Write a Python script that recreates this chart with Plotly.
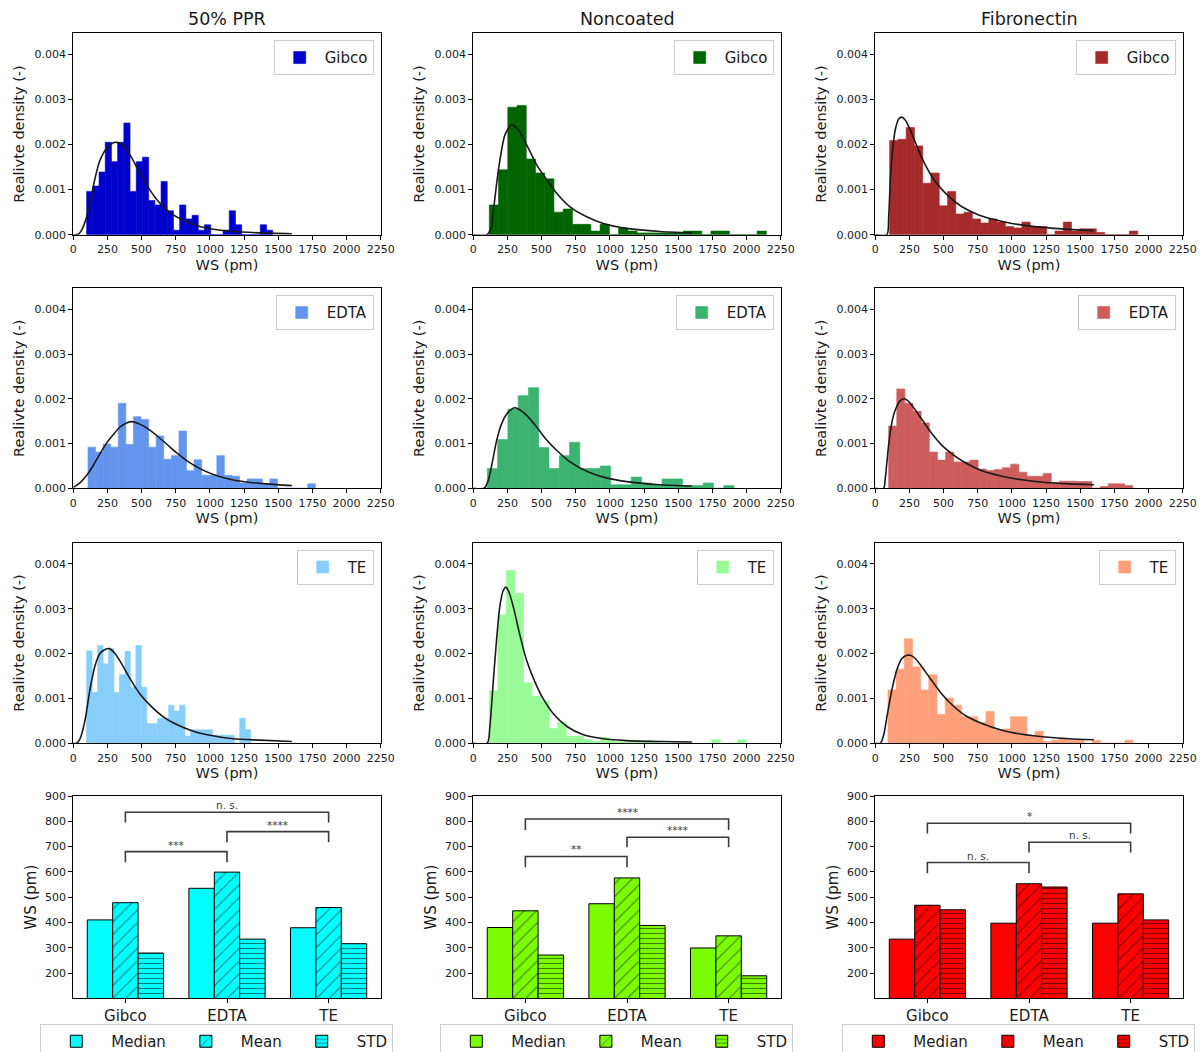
import numpy as np
import plotly.graph_objects as go

W, H = 1203, 1052

conditions = ["50% PPR", "Noncoated", "Fibronectin"]
treatments = ["Gibco", "EDTA", "TE"]
stats = ["Median", "Mean", "STD"]

hist_colors = [["#0000CD", "#006400", "#A52A2A"],
               ["#6495ED", "#3CB371", "#CD5C5C"],
               ["#87CEFA", "#98FB98", "#FFA07A"]]
bar_colors = ["#00FFFF", "#7CFC00", "#FF0000"]

# ---------------- histogram data (density per bin, bin range) ----------------
ppr_gibco_range = (97.6, 1459.3)
ppr_gibco_density = [0.00096, 0.00108, 0.00139, 0.00205, 0.00162, 0.00205, 0.00248, 0.00096, 0.00162, 0.00172,
                     0.00076, 0.00066, 0.00118, 0.00053, 0.0001, 0.00066, 0.00035, 0.00043, 0.0001, 0.00022,
                     0, 0, 0.0001, 0.00053, 0.00022, 0, 0, 0, 0.00022, 0.0001]
non_gibco_range = (117.1, 2145.0)
non_gibco_density = [0.00066, 0.00144, 0.00283, 0.00287, 0.00168, 0.00137, 0.00124, 0.0005, 0.00057, 0.00023,
                     0.00023, 0.00008, 0.00023, 0, 0.00015, 0.00008, 0.00004, 0.00004, 0.00004, 0.00004,
                     0.00004, 0.00008, 0.00008, 0, 0.00008, 0.00008, 0, 0, 0, 0.00008]
fib_gibco_range = (104.9, 1920.5)
fib_gibco_density = [0.00209, 0.00212, 0.00238, 0.00197, 0.00114, 0.00137, 0.00064, 0.00096, 0.00046, 0.0005,
                     0.00035, 0.00026, 0.00035, 0.00028, 0.00018, 0.00015, 0.00028, 0.00018, 0.00018, 0,
                     0.00008, 0.00028, 0.00008, 0.00013, 0.00013, 0.00005, 0, 0, 0, 0.00008]
ppr_edta_range = (107.4, 1771.7)
ppr_edta_density = [0.00092, 0.00081, 0.00099, 0.00092, 0.0019, 0.00098, 0.0016, 0.00154, 0.00092, 0.00117,
                    0.00065, 0.00073, 0.00128, 0.00039, 0.00064, 0.00029, 0.00029, 0.00073, 0.00029, 0.00027,
                    0.00012, 0.00021, 0.00021, 0.0001, 0.00021, 0, 0, 0, 0, 0.0001]
non_edta_range = (102.5, 1908.3)
non_edta_density = [0.00044, 0.00109, 0.00177, 0.00207, 0.00225, 0.00091, 0.00044, 0.00073, 0.00103, 0.00044,
                    0.00044, 0.0005, 0.00008, 0.00008, 0.00025, 0.00012, 0.00008, 0.00021, 0.00021, 0.00006,
                    0.00006, 0.00012, 0, 0.00006]
fib_edta_range = (97.6, 1883.9)
fib_edta_density = [0.00139, 0.00222, 0.0019, 0.00172, 0.00146, 0.00081, 0.00063, 0.00081, 0.00059, 0.00059,
                    0.00063, 0.00043, 0.0004, 0.00042, 0.00046, 0.00054, 0.00036, 0.00027, 0.00027, 0.00033,
                    0.00013, 0.00016, 0.00016, 0.00015, 0.00015, 0, 0.00004, 0.0001, 0.0001, 0.00006]
ppr_te_range = (97.6, 1298.2)
ppr_te_density = [0.00206, 0.00113, 0.00218, 0.00177, 0.00211, 0.00113, 0.00153, 0.00205, 0.00125, 0.00218,
                  0.00125, 0.00044, 0.00044, 0.00056, 0.00056, 0.00085, 0.00072, 0.00085, 0.00016, 0.0003,
                  0.0003, 0.0003, 0.0003, 0.00018, 0.00018, 0.00018, 0.00018, 0, 0.00056, 0.0003]
non_te_range = (117.1, 1996.2)
non_te_density = [0.00117, 0.00286, 0.00385, 0.00334, 0.00135, 0.00105, 0.00094, 0.00033, 0.00047, 0.00016,
                  0.00016, 0.00008, 0.00004, 0.00013, 0.00004, 0.00004, 0.00004, 0.00004, 0.00004, 0.00004,
                  0, 0, 0, 0, 0, 0, 0.00008, 0, 0, 0.00008]
fib_te_range = (92.7, 1886.4)
fib_te_density = [0.00119, 0.00165, 0.00233, 0.0017, 0.00119, 0.00153, 0.00064, 0.00101, 0.00085, 0.00059,
                  0.00059, 0.00047, 0.00071, 0.0003, 0.00032, 0.00059, 0.00059, 0.00016, 0.00027, 0.00004,
                  0.00007, 0.00012, 0.00007, 0.00007, 0, 0.00007, 0, 0, 0, 0.00007]

# ---------------- fitted curves ----------------
ppr_gibco_fit_x = [0, 37, 61, 98, 122, 146, 171, 195, 244, 293, 317, 366, 415, 488, 561, 634, 732, 830, 927, 1025, 1171, 1367, 1600]
ppr_gibco_fit_y = [0, 0.00001, 0.0001, 0.0004, 0.0007, 0.00107, 0.0014, 0.00165, 0.00192, 0.00204, 0.00205, 0.00199,
                   0.00177, 0.00137, 0.00099, 0.0007, 0.00044, 0.00029, 0.00018, 0.00012, 0.00007, 0.00004, 0.00002]
non_gibco_fit_x = [0, 100, 134, 146, 171, 195, 232, 281, 329, 390, 464, 537, 610, 708, 830, 952, 1122, 1367, 1600]
non_gibco_fit_y = [0, 0, 0.00018, 0.0005, 0.00114, 0.00166, 0.00222, 0.00244, 0.00233, 0.002, 0.00155, 0.00122,
                   0.00092, 0.00062, 0.0004, 0.00025, 0.00014, 0.00007, 0.00004]
fib_gibco_fit_x = [0, 85, 98, 110, 127, 146, 171, 195, 220, 256, 305, 366, 439, 537, 634, 757, 878, 1000, 1171, 1367, 1600]
fib_gibco_fit_y = [0, 0, 0.0004, 0.0012, 0.00188, 0.00233, 0.00257, 0.00261, 0.00254, 0.00233, 0.00196, 0.00155,
                   0.00118, 0.00085, 0.00062, 0.00044, 0.00033, 0.00025, 0.00018, 0.00013, 0.00009]
ppr_edta_fit_x = [0, 49, 98, 146, 195, 244, 293, 342, 390, 427, 476, 537, 610, 683, 757, 830, 927, 1025, 1122, 1269, 1415, 1600]
ppr_edta_fit_y = [0.00002, 0.00012, 0.00029, 0.00051, 0.00077, 0.00101, 0.0012, 0.00137, 0.00146, 0.00149, 0.00145,
                  0.00135, 0.00118, 0.00099, 0.00079, 0.00062, 0.00044, 0.00031, 0.00022, 0.00014, 0.0001, 0.00006]
non_edta_fit_x = [0, 80, 110, 134, 171, 207, 244, 281, 305, 342, 390, 464, 537, 610, 708, 830, 952, 1122, 1367, 1600]
non_edta_fit_y = [0, 0, 0.00018, 0.0005, 0.00107, 0.00144, 0.00166, 0.00177, 0.0018, 0.00175, 0.00163, 0.00137,
                  0.00108, 0.00085, 0.00059, 0.00038, 0.00025, 0.00015, 0.00008, 0.00005]
fib_edta_fit_x = [0, 61, 73, 85, 98, 122, 146, 183, 215, 244, 293, 354, 415, 488, 561, 659, 781, 927, 1074, 1244, 1415, 1600]
fib_edta_fit_y = [0, 0, 0.00022, 0.00058, 0.00098, 0.00148, 0.00175, 0.00196, 0.002, 0.00194, 0.00175, 0.00148,
                  0.00122, 0.00096, 0.00077, 0.00057, 0.00039, 0.00027, 0.00019, 0.00013, 0.0001, 0.00008]
ppr_te_fit_x = [0, 24, 49, 85, 122, 159, 195, 232, 264, 305, 354, 415, 488, 561, 659, 757, 878, 1000, 1171, 1367, 1600]
ppr_te_fit_y = [0, 0, 0.0001, 0.0005, 0.0012, 0.00173, 0.002, 0.00209, 0.00211, 0.002, 0.00177, 0.00144, 0.0011,
                0.00085, 0.00059, 0.00042, 0.00027, 0.00018, 0.0001, 0.00007, 0.00004]
non_te_fit_x = [0, 102, 122, 146, 171, 195, 220, 237, 256, 293, 342, 390, 451, 512, 586, 683, 806, 952, 1122, 1367, 1600]
non_te_fit_y = [0, 0, 0.0004, 0.00137, 0.00233, 0.00307, 0.00341, 0.00348, 0.00341, 0.00304, 0.0024, 0.00185,
                0.00137, 0.00099, 0.00066, 0.00038, 0.00019, 0.0001, 0.00006, 0.00004, 0.00003]
fib_te_fit_x = [0, 37, 61, 85, 122, 159, 195, 232, 256, 293, 342, 403, 476, 561, 659, 781, 927, 1074, 1244, 1415, 1600]
fib_te_fit_y = [0, 0, 0.00018, 0.00059, 0.0012, 0.00165, 0.00189, 0.00196, 0.00196, 0.00189, 0.0017, 0.00144,
                0.00114, 0.00086, 0.00062, 0.00044, 0.00029, 0.0002, 0.00014, 0.0001, 0.00008]

hist_ranges = [[ppr_gibco_range, non_gibco_range, fib_gibco_range],
               [ppr_edta_range, non_edta_range, fib_edta_range],
               [ppr_te_range, non_te_range, fib_te_range]]
hist_density = [[ppr_gibco_density, non_gibco_density, fib_gibco_density],
                [ppr_edta_density, non_edta_density, fib_edta_density],
                [ppr_te_density, non_te_density, fib_te_density]]
fit_x = [[ppr_gibco_fit_x, non_gibco_fit_x, fib_gibco_fit_x],
         [ppr_edta_fit_x, non_edta_fit_x, fib_edta_fit_x],
         [ppr_te_fit_x, non_te_fit_x, fib_te_fit_x]]
fit_y = [[ppr_gibco_fit_y, non_gibco_fit_y, fib_gibco_fit_y],
         [ppr_edta_fit_y, non_edta_fit_y, fib_edta_fit_y],
         [ppr_te_fit_y, non_te_fit_y, fib_te_fit_y]]

# ---------------- summary bar data ----------------
ppr_median = [410, 535, 379]
ppr_mean = [478, 599, 459]
ppr_std = [279, 334, 316]
non_median = [380, 474, 299]
non_mean = [446, 576, 347]
non_std = [271, 388, 189]
fib_median = [334, 397, 397]
fib_mean = [468, 553, 513]
fib_std = [450, 540, 410]
summary = [[ppr_median, ppr_mean, ppr_std],
           [non_median, non_mean, non_std],
           [fib_median, fib_mean, fib_std]]

# significance brackets: (group i, group j, bracket top, leg bottom, label)
ppr_brackets = [(0, 1, 680, 638, "***"), (1, 2, 759, 717, "****"), (0, 2, 836, 795, "n. s.")]
non_brackets = [(0, 1, 661, 618, "**"), (1, 2, 737, 697, "****"), (0, 2, 809, 766, "****")]
fib_brackets = [(0, 1, 637, 595, "n. s."), (1, 2, 717, 677, "n. s."), (0, 2, 792, 752, "*")]
brackets = [ppr_brackets, non_brackets, fib_brackets]

hist_xticks = [0, 250, 500, 750, 1000, 1250, 1500, 1750, 2000, 2250]
hist_yticks = [0, 0.001, 0.002, 0.003, 0.004]
bar_yticks = [200, 300, 400, 500, 600, 700, 800, 900]

# ---------------- layout geometry (page pixels) ----------------
col_x = [(73.3, 380.7), (473.3, 780.7), (875.3, 1182.7)]
row_y = [(33.3, 234.7), (288.3, 488.3), (542.7, 743.3), (796.0, 998.3)]

def px_x(p):
    return p / W

def px_y(p):
    return 1 - p / H

FONT = "DejaVu Sans"
TXT = "#1a1a1a"

fig = go.Figure()
layout = dict(width=W, height=H, margin=dict(l=0, r=0, t=0, b=0, autoexpand=False),
              paper_bgcolor="white", plot_bgcolor="white", barmode="overlay", hovermode=False,
              font=dict(family=FONT, color=TXT), annotations=[])

def axname(prefix, k):
    return prefix if k == 1 else f"{prefix}{k}"

def ref(prefix, k):
    return prefix if k == 1 else f"{prefix}{k}"

axis_common = dict(showline=True, mirror=True, linecolor="black", linewidth=1,
                   ticks="outside", ticklen=4, tickcolor="black", tickwidth=1,
                   showgrid=False, zeroline=False, automargin=False, tickangle=0,
                   ticklabeloverflow="allow")

# histograms
for r in range(3):
    for c in range(3):
        k = r * 3 + c + 1
        lo, hi = hist_ranges[r][c]
        dens = hist_density[r][c]
        edges = np.linspace(lo, hi, len(dens) + 1)
        widths = np.diff(edges)
        lg = axname("legend", k)
        col = hist_colors[r][c]
        fig.add_trace(go.Bar(x=edges[:-1], y=dens, width=widths, offset=0,
                             marker=dict(color=col, line=dict(width=0.6, color=col)),
                             name=treatments[r], xaxis=ref("x", k), yaxis=ref("y", k),
                             legend=lg, showlegend=True))
        fig.add_trace(go.Scatter(x=fit_x[r][c], y=fit_y[r][c], mode="lines",
                                 line=dict(color="#1a1a1a", width=1.6, shape="spline", smoothing=0.7),
                                 xaxis=ref("x", k), yaxis=ref("y", k), showlegend=False,
                                 legend=lg))
        x0, x1 = col_x[c]
        y0, y1 = row_y[r]
        layout[axname("xaxis", k)] = dict(axis_common, domain=[px_x(x0), px_x(x1)], anchor=ref("y", k),
                                          range=[0, 2250], tickvals=hist_xticks,
                                          tickfont=dict(size=11, color=TXT),
                                          title=dict(text="WS (pm)", font=dict(size=14.5, color=TXT), standoff=4))
        layout[axname("yaxis", k)] = dict(axis_common, domain=[px_y(y1), px_y(y0)], anchor=ref("x", k),
                                          range=[0, 0.00447], tickvals=hist_yticks, tickformat=".3f",
                                          tickfont=dict(size=11, color=TXT),
                                          title=dict(text="Realivte density (-)", font=dict(size=14.5, color=TXT), standoff=6))
        layout[lg] = dict(x=px_x(x1 - 7), y=px_y(y0 + 7), xanchor="right", yanchor="top",
                          bgcolor="rgba(255,255,255,0.8)", bordercolor="#cccccc", borderwidth=1,
                          font=dict(size=15, color=TXT, family=FONT), itemwidth=40,
                          tracegroupgap=0)

# summary bars
offsets = [-0.375, -0.125, 0.125]
patterns = ["", "/", "-"]
pat_size = [8, 9, 5]
pat_sol = [0.1, 0.12, 0.22]
for c in range(3):
    k = 10 + c
    lg = axname("legend", k)
    for s in range(3):
        pat = dict(shape=patterns[s], fgcolor="black", bgcolor=bar_colors[c],
                   size=pat_size[s], solidity=pat_sol[s], fillmode="overlay")
        fig.add_trace(go.Bar(x=[0, 1, 2], y=summary[c][s], width=0.25, offset=offsets[s],
                             marker=dict(color=bar_colors[c], line=dict(color="black", width=1), pattern=pat),
                             name=stats[s], xaxis=ref("x", k), yaxis=ref("y", k),
                             legend=lg, showlegend=True))
    for (i, j, top, leg, label) in brackets[c]:
        fig.add_trace(go.Scatter(x=[i, i, j, j], y=[leg, top, top, leg], mode="lines",
                                 line=dict(color="#3a3a3a", width=1.6),
                                 xaxis=ref("x", k), yaxis=ref("y", k), showlegend=False,
                                 legend=lg))
        layout["annotations"].append(dict(x=(i + j) / 2, y=top, xref=ref("x", k), yref=ref("y", k),
                                          text=label, showarrow=False, yanchor="bottom", yshift=-1,
                                          font=dict(size=10.5, color="#3a3a3a", family=FONT)))
    x0, x1 = col_x[c]
    y0, y1 = row_y[3]
    layout[axname("xaxis", k)] = dict(axis_common, domain=[px_x(x0), px_x(x1)], anchor=ref("y", k),
                                      range=[-0.5125, 2.5125], tickvals=[0, 1, 2], ticktext=treatments,
                                      tickfont=dict(size=15, color=TXT))
    layout[axname("yaxis", k)] = dict(axis_common, domain=[px_y(y1), px_y(y0)], anchor=ref("x", k),
                                      range=[100, 900], tickvals=bar_yticks,
                                      tickfont=dict(size=11, color=TXT),
                                      title=dict(text="WS (pm)", font=dict(size=15, color=TXT), standoff=4))
    layout[lg] = dict(x=px_x(x0 - 33), y=px_y(1024), xanchor="left", yanchor="top", orientation="h",
                      bgcolor="white", bordercolor="#cccccc", borderwidth=1,
                      font=dict(size=15, color=TXT, family=FONT), itemwidth=60)

# column titles
for c in range(3):
    x0, x1 = col_x[c]
    layout["annotations"].append(dict(x=px_x((x0 + x1) / 2), y=px_y(19), xref="paper", yref="paper",
                                      text=conditions[c], showarrow=False, xanchor="center", yanchor="middle",
                                      font=dict(size=17.5, color=TXT, family=FONT)))

fig.update_layout(**layout)
fig.write_html("out.html", config={"displayModeBar": False},
               post_script="document.body.style.margin='0';document.body.style.overflow='hidden';")
